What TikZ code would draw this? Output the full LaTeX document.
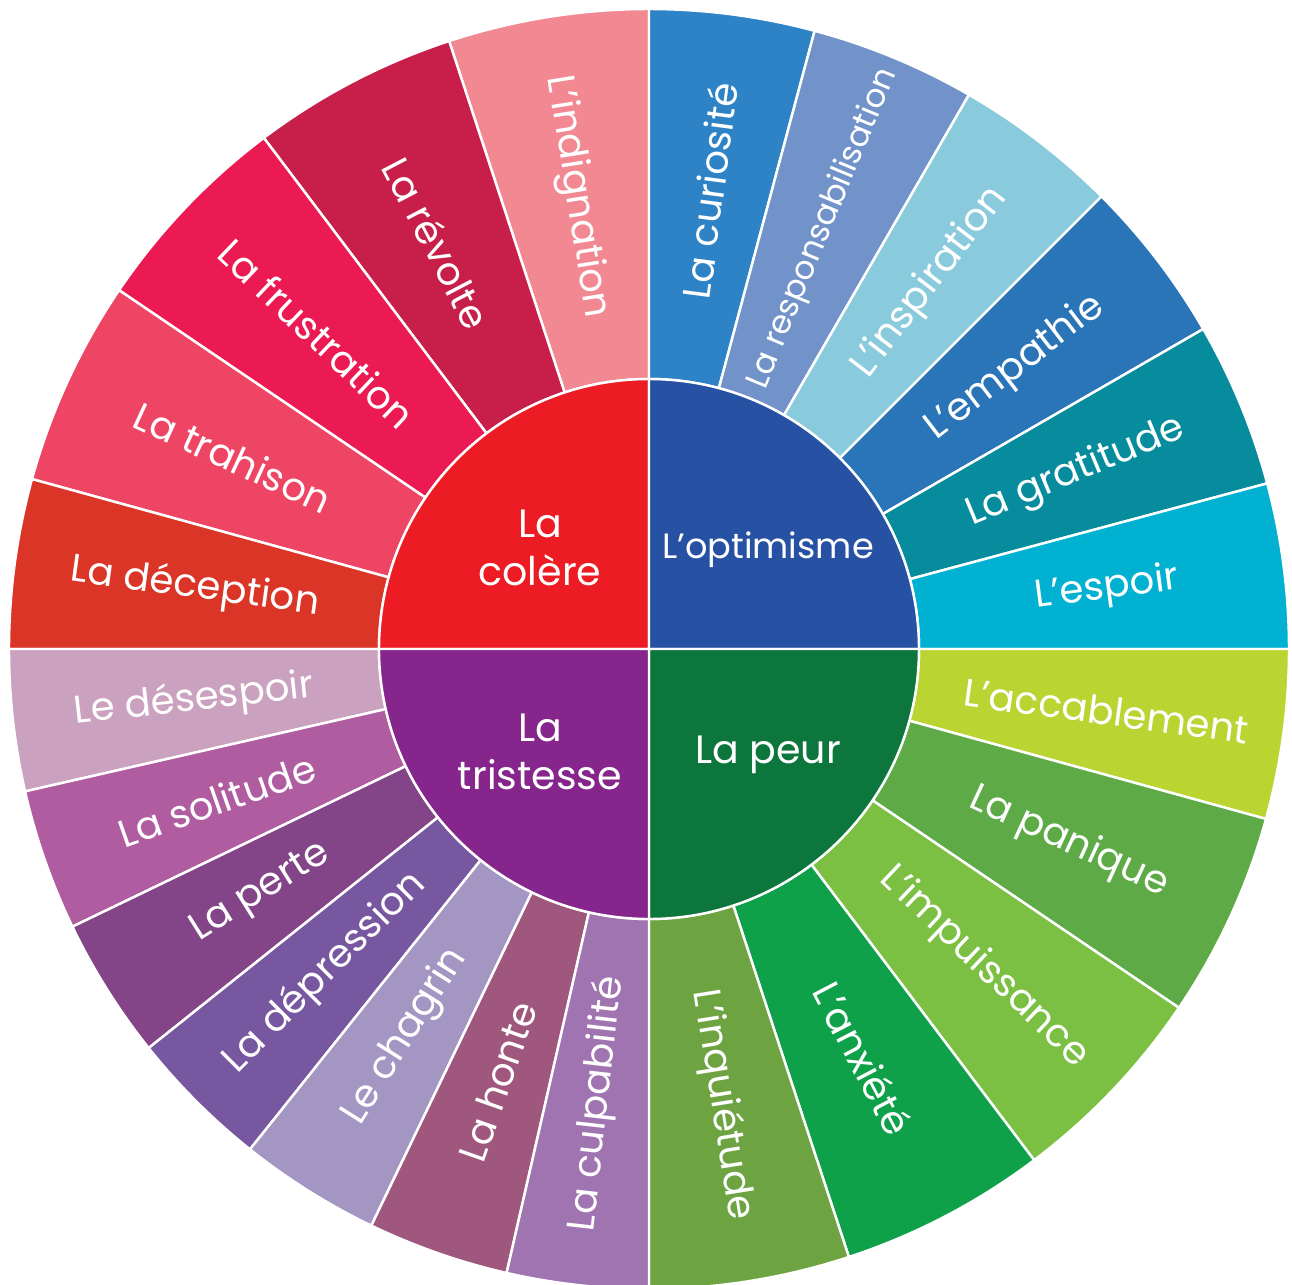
\documentclass[tikz,border=0pt]{standalone}
\usepackage{fontspec}
\setmainfont{Poppins}
\usepackage{xcolor}

% colours of the wheel
\definecolor{colere}{HTML}{ED1C24}
\definecolor{indig}{HTML}{F28891}
\definecolor{revolte}{HTML}{C81F4A}
\definecolor{frustr}{HTML}{EC1A52}
\definecolor{trahis}{HTML}{EF4565}
\definecolor{decept}{HTML}{DA3527}
\definecolor{optim}{HTML}{2752A3}
\definecolor{curios}{HTML}{2E83C6}
\definecolor{respons}{HTML}{7193C9}
\definecolor{inspir}{HTML}{89CBDC}
\definecolor{empath}{HTML}{2A74B8}
\definecolor{gratit}{HTML}{068C9C}
\definecolor{espoir}{HTML}{00B1D1}
\definecolor{peur}{HTML}{0C763D}
\definecolor{accabl}{HTML}{BAD432}
\definecolor{paniq}{HTML}{5DAA46}
\definecolor{impuis}{HTML}{7CC043}
\definecolor{anxiet}{HTML}{0FA04A}
\definecolor{inquiet}{HTML}{6EA342}
\definecolor{trist}{HTML}{86268C}
\definecolor{desesp}{HTML}{CAA1BE}
\definecolor{solit}{HTML}{B05CA0}
\definecolor{perte}{HTML}{834587}
\definecolor{depres}{HTML}{7857A1}
\definecolor{chagr}{HTML}{A396C2}
\definecolor{honte}{HTML}{A0577D}
\definecolor{culpab}{HTML}{A074B0}

\tikzset{
  seg/.style={draw=white, line width=1.4pt, line join=round},
  lbl/.style={text=white, inner sep=0pt, font=\fontsize{22}{26}\selectfont},
  small lbl/.style={lbl, font=\fontsize{18.5}{22}\selectfont},
  core/.style={text=white, inner sep=0pt, align=center, font=\fontsize{22.5}{27}\selectfont},
  small core/.style={core, font=\fontsize{20}{24}\selectfont}
}

\begin{document}
\begin{tikzpicture}[x=0.2mm, y=0.2mm]
  \clip (-649,-635) rectangle (643,649);

  % la colere
  \filldraw[seg, fill=indig] (90:270) arc (90:108.2:270) -- (108.2:640) arc (108.2:90:640) -- cycle;
  \filldraw[seg, fill=revolte] (108.2:270) arc (108.2:127:270) -- (127:640) arc (127:108.2:640) -- cycle;
  \filldraw[seg, fill=frustr] (127:270) arc (127:145.9:270) -- (145.9:640) arc (145.9:127:640) -- cycle;
  \filldraw[seg, fill=trahis] (145.9:270) arc (145.9:164.6:270) -- (164.6:640) arc (164.6:145.9:640) -- cycle;
  \filldraw[seg, fill=decept] (164.6:270) arc (164.6:180:270) -- (180:640) arc (180:164.6:640) -- cycle;

  % l'optimisme
  \filldraw[seg, fill=curios] (75:270) arc (75:90:270) -- (90:640) arc (90:75:640) -- cycle;
  \filldraw[seg, fill=respons] (60:270) arc (60:75:270) -- (75:640) arc (75:60:640) -- cycle;
  \filldraw[seg, fill=inspir] (45:270) arc (45:60:270) -- (60:640) arc (60:45:640) -- cycle;
  \filldraw[seg, fill=empath] (30:270) arc (30:45:270) -- (45:640) arc (45:30:640) -- cycle;
  \filldraw[seg, fill=gratit] (15:270) arc (15:30:270) -- (30:640) arc (30:15:640) -- cycle;
  \filldraw[seg, fill=espoir] (0:270) arc (0:15:270) -- (15:640) arc (15:0:640) -- cycle;

  % la peur
  \filldraw[seg, fill=accabl] (-15.4:270) arc (-15.4:0:270) -- (0:640) arc (0:-15.4:640) -- cycle;
  \filldraw[seg, fill=paniq] (-34.1:270) arc (-34.1:-15.4:270) -- (-15.4:640) arc (-15.4:-34.1:640) -- cycle;
  \filldraw[seg, fill=impuis] (-53:270) arc (-53:-34.1:270) -- (-34.1:640) arc (-34.1:-53:640) -- cycle;
  \filldraw[seg, fill=anxiet] (-71.8:270) arc (-71.8:-53:270) -- (-53:640) arc (-53:-71.8:640) -- cycle;
  \filldraw[seg, fill=inquiet] (-90:270) arc (-90:-71.8:270) -- (-71.8:640) arc (-71.8:-90:640) -- cycle;

  % la tristesse
  \filldraw[seg, fill=desesp] (180:270) arc (180:192.857:270) -- (192.857:640) arc (192.857:180:640) -- cycle;
  \filldraw[seg, fill=solit] (192.857:270) arc (192.857:205.714:270) -- (205.714:640) arc (205.714:192.857:640) -- cycle;
  \filldraw[seg, fill=perte] (205.714:270) arc (205.714:218.571:270) -- (218.571:640) arc (218.571:205.714:640) -- cycle;
  \filldraw[seg, fill=depres] (218.571:270) arc (218.571:231.429:270) -- (231.429:640) arc (231.429:218.571:640) -- cycle;
  \filldraw[seg, fill=chagr] (231.429:270) arc (231.429:244.286:270) -- (244.286:640) arc (244.286:231.429:640) -- cycle;
  \filldraw[seg, fill=honte] (244.286:270) arc (244.286:257.143:270) -- (257.143:640) arc (257.143:244.286:640) -- cycle;
  \filldraw[seg, fill=culpab] (257.143:270) arc (257.143:270:270) -- (270:640) arc (270:257.143:640) -- cycle;

  % the four cores
  \filldraw[seg, fill=colere] (0,0) -- (90:270) arc (90:180:270) -- cycle;
  \filldraw[seg, fill=optim] (0,0) -- (0:270) arc (0:90:270) -- cycle;
  \filldraw[seg, fill=peur] (0,0) -- (-90:270) arc (-90:0:270) -- cycle;
  \filldraw[seg, fill=trist] (0,0) -- (180:270) arc (180:270:270) -- cycle;

  \node[core] (colere) at (-109,101) {La\\colère};
  \node[small core] (optim) at (119,99) {L’optimisme};
  \node[core] (peur) at (119,-106) {La peur};
  \node[core] (trist) at (-109,-103) {La\\tristesse};

  % labels, colere
  \node[lbl, rotate=-80.9] (indig) at (99.1:458) {L’indignation};
  \node[lbl, rotate=-62.4] (revolte) at (117.6:458) {La révolte};
  \node[lbl, rotate=-43.55] (frustr) at (136.45:458) {La frustration};
  \node[lbl, rotate=-24.75] (trahis) at (155.25:458) {La trahison};
  \node[lbl, rotate=-7.7] (decept) at (172.3:458) {La déception};

  % labels, optimisme
  \node[lbl, rotate=82.5] (curios) at (82.5:462) {La curiosité};
  \node[small lbl, rotate=67.5] (respons) at (67.5:455) {La responsabilisation};
  \node[lbl, rotate=52.5] (inspir) at (52.5:462) {L’inspiration};
  \node[lbl, rotate=37.5] (empath) at (37.5:462) {L’empathie};
  \node[lbl, rotate=22.5] (gratit) at (22.5:462) {La gratitude};
  \node[lbl, rotate=7.5] (espoir) at (7.5:462) {L’espoir};

  % labels, peur
  \node[lbl, rotate=-7.7] (accabl) at (-7.7:462) {L’accablement};
  \node[lbl, rotate=-24.75] (paniq) at (-24.75:462) {La panique};
  \node[lbl, rotate=-43.55] (impuis) at (-43.55:462) {L’impuissance};
  \node[lbl, rotate=-62.4] (anxiet) at (-62.4:462) {L’anxiété};
  \node[lbl, rotate=-80.9] (inquiet) at (-80.9:462) {L’inquiétude};

  % labels, tristesse
  \node[lbl, rotate=6.43] (desesp) at (186.43:458) {Le désespoir};
  \node[lbl, rotate=19.29] (solit) at (199.29:458) {La solitude};
  \node[lbl, rotate=32.14] (perte) at (212.14:458) {La perte};
  \node[lbl, rotate=45] (depres) at (225:458) {La dépression};
  \node[lbl, rotate=57.86] (chagr) at (237.86:458) {Le chagrin};
  \node[lbl, rotate=70.71] (honte) at (250.71:458) {La honte};
  \node[lbl, rotate=83.57] (culpab) at (263.57:458) {La culpabilité};
\end{tikzpicture}
\end{document}
